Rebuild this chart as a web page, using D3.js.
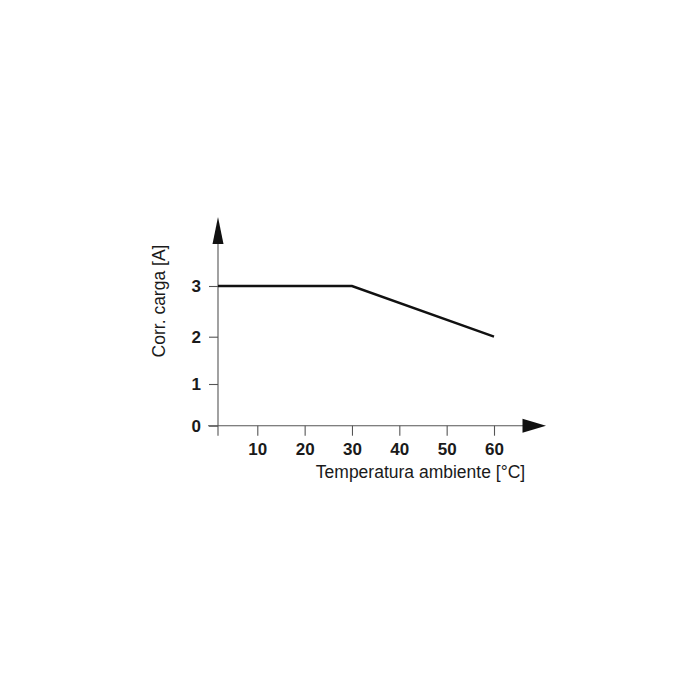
<!DOCTYPE html>
<html>
<head>
<meta charset="utf-8">
<script src="https://cdn.jsdelivr.net/npm/d3@7"></script>
<style>
  html, body { margin: 0; padding: 0; background: #fff; }
  svg { display: block; }
</style>
</head>
<body>
<script>
// Data
const temperatures = [0, 30, 60];      // °C
const currents = [3, 3, 2];            // A
const xTickValues = [10, 20, 30, 40, 50, 60];
const yTickValues = [0, 1, 2, 3];
const xTitle = "Temperatura ambiente [°C]";
const yTitle = "Corr. carga [A]";

const W = 700, H = 700;
const svg = d3.select("body").append("svg").attr("width", W).attr("height", H);

// Scales (drawing is slightly irregular, so piecewise linear)
const x = d3.scaleLinear().domain([0, 10, 60]).range([218, 257.3, 494]);
const y = d3.scaleLinear().domain([0, 1, 2, 3]).range([425.7, 384, 336.7, 286]);

const axisColor = "#555";
const textColor = "#1a1a1a";

// Axis lines
const x0 = x(0), y0 = y(0);
svg.append("line").attr("x1", x0).attr("x2", x0).attr("y1", y0 + 10).attr("y2", 243)
  .attr("stroke", axisColor).attr("stroke-width", 1.1);
svg.append("line").attr("x1", 208).attr("x2", 523).attr("y1", y0).attr("y2", y0)
  .attr("stroke", axisColor).attr("stroke-width", 1.1);

// Arrow heads
svg.append("path").attr("d", `M${x0},217 L${x0 + 5.5},244 L${x0 - 5.5},244 Z`).attr("fill", "#111");
svg.append("path").attr("d", `M546,${y0} L522.5,${y0 - 7} L522.5,${y0 + 7} Z`).attr("fill", "#111");

// X axis
const gx = svg.append("g").attr("transform", `translate(0,${y0})`)
  .call(d3.axisBottom(x).tickValues(xTickValues).tickSize(10).tickPadding(7).tickFormat(d3.format("d")));
gx.select(".domain").remove();
gx.selectAll(".tick line").attr("stroke", axisColor).attr("stroke-width", 1.1);
gx.selectAll(".tick text").attr("fill", textColor)
  .style("font-family", "Liberation Sans, Arial, sans-serif").style("font-size", "17px").style("font-weight", "bold");

// Y axis
const gy = svg.append("g").attr("transform", `translate(${x0},0)`)
  .call(d3.axisLeft(y).tickValues(yTickValues).tickSize(9).tickPadding(8).tickFormat(d3.format("d")));
gy.select(".domain").remove();
gy.selectAll(".tick line").attr("stroke", axisColor).attr("stroke-width", 1.1);
gy.selectAll(".tick text").attr("fill", textColor)
  .style("font-family", "Liberation Sans, Arial, sans-serif").style("font-size", "17px").style("font-weight", "bold");

// Line
const line = d3.line().x((d, i) => x(temperatures[i])).y(d => y(d));
svg.append("path").datum(currents).attr("d", line)
  .attr("fill", "none").attr("stroke", "#111").attr("stroke-width", 2.4);

// Titles
svg.append("text").attr("x", 420.5).attr("y", 478).attr("text-anchor", "middle")
  .attr("fill", textColor)
  .style("font-family", "Liberation Sans, Arial, sans-serif").style("font-size", "17.5px")
  .text(xTitle);
svg.append("text").attr("transform", "translate(165,301) rotate(-90)").attr("text-anchor", "middle")
  .attr("fill", textColor)
  .style("font-family", "Liberation Sans, Arial, sans-serif").style("font-size", "17.5px")
  .text(yTitle);
</script>
</body>
</html>
